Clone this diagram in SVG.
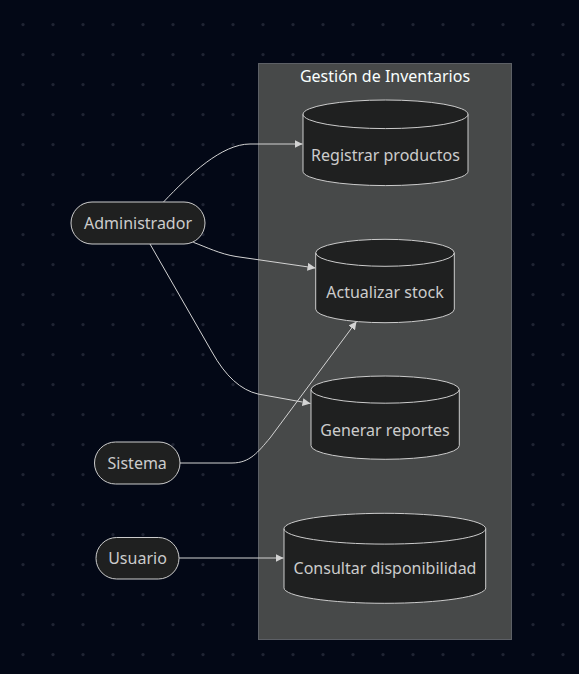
<svg xmlns="http://www.w3.org/2000/svg" width="579" height="674" viewBox="0 0 579 674">
<defs>
<pattern id="dots" x="0" y="0" width="30" height="30" patternUnits="userSpaceOnUse">
<circle cx="23" cy="24.6" r="1.6" fill="#1f2433"/>
</pattern>
<marker id="arrow" viewBox="0 0 10 10" refX="10" refY="5" markerWidth="8" markerHeight="8" markerUnits="userSpaceOnUse" orient="auto">
<path d="M0,0 L10,5 L0,10 z" fill="#d3d3d3"/>
</marker>
</defs>
<style>
.bg{fill:#030816}
.cluster{fill:#474949;stroke:#5d6066;stroke-width:1}
.ctitle{fill:#F9FFFE;font-family:"Noto Sans","DejaVu Sans",sans-serif;font-size:16px;text-anchor:middle;dominant-baseline:central}
.node{fill:#1f2020;stroke:#cccccc;stroke-width:1}
.label{fill:#cccccc;font-family:"Noto Sans","DejaVu Sans",sans-serif;font-size:16px;text-anchor:middle;dominant-baseline:central}
.edge{fill:none;stroke:#d3d3d3;stroke-width:1;marker-end:url(#arrow)}
</style>
<rect class="bg" x="0" y="0" width="579" height="674"/>
<rect x="0" y="0" width="579" height="674" fill="url(#dots)"/>

<g id="cluster-gestion">
<rect class="cluster" x="258.5" y="63.5" width="253" height="576"/>
<text class="ctitle" x="385" y="76">Gestión de Inventarios</text>
</g>

<g id="edges">
<path class="edge" d="M163.5,202 C190,174 222,144 250,144 L302.5,144"/>
<path class="edge" d="M193.3,242.3 C206,247 220,254 236,256.5 L315.5,268"/>
<path class="edge" d="M150,244 L212,352 Q232,388 258,394 L310.5,403.5"/>
<path class="edge" d="M180,463 L232,463 C250,463 258,452 270,438 L356.5,321.5"/>
<path class="edge" d="M179,558 L283.5,558"/>
</g>

<g id="registrar">
<path class="node" d="M303,114.3 a82.5,14.3 0 0 0 165,0 a82.5,14.3 0 0 0 -165,0 l0,57 a82.5,14.3 0 0 0 165,0 l0,-57"/>
<text class="label" x="385.5" y="155">Registrar productos</text>
</g>
<g id="actualizar">
<path class="node" d="M315.7,252.8 a69.3,13.5 0 0 0 138.6,0 a69.3,13.5 0 0 0 -138.6,0 l0,56.4 a69.3,13.5 0 0 0 138.6,0 l0,-56.4"/>
<text class="label" x="385" y="292">Actualizar stock</text>
</g>
<g id="generar">
<path class="node" d="M311,389.6 a74.15,13.6 0 0 0 148.3,0 a74.15,13.6 0 0 0 -148.3,0 l0,56.1 a74.15,13.6 0 0 0 148.3,0 l0,-56.1"/>
<text class="label" x="385" y="430">Generar reportes</text>
</g>
<g id="consultar">
<path class="node" d="M284,528.7 a100.85,15.4 0 0 0 201.7,0 a100.85,15.4 0 0 0 -201.7,0 l0,59.2 a100.85,15.4 0 0 0 201.7,0 l0,-59.2"/>
<text class="label" x="385" y="568">Consultar disponibilidad</text>
</g>

<g id="administrador">
<rect class="node" x="71" y="202" width="134" height="42" rx="21" ry="21"/>
<text class="label" x="138" y="223">Administrador</text>
</g>
<g id="sistema">
<rect class="node" x="94.5" y="442" width="85.5" height="42" rx="21" ry="21"/>
<text class="label" x="137.2" y="463">Sistema</text>
</g>
<g id="usuario">
<rect class="node" x="96" y="537.5" width="83" height="41.5" rx="20.7" ry="20.7"/>
<text class="label" x="137.5" y="558">Usuario</text>
</g>
</svg>
